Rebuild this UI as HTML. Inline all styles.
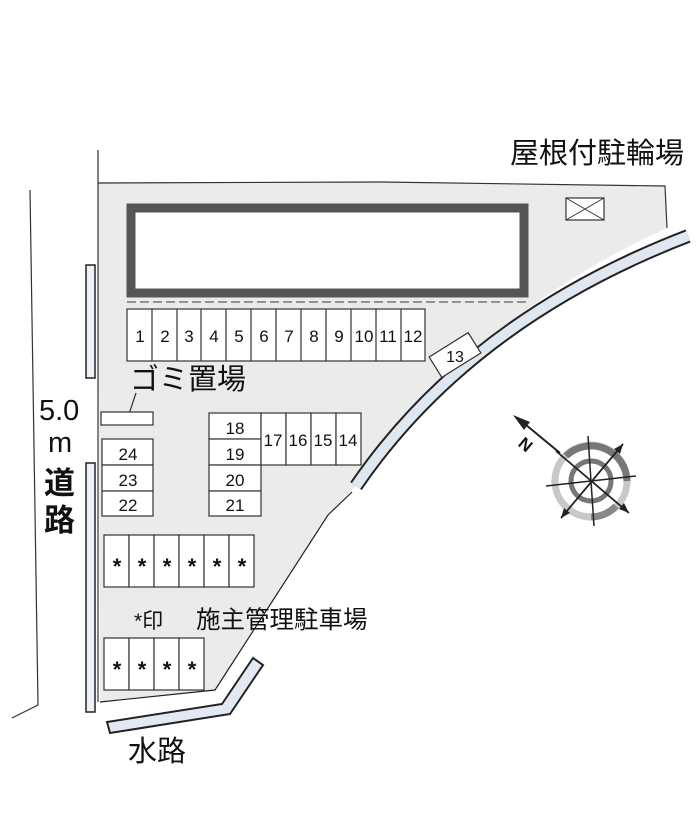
<!DOCTYPE html>
<html><head><meta charset="utf-8"><style>
html,body{margin:0;padding:0;background:#fff;}
svg{display:block;}
text{font-family:"Liberation Sans","Noto Sans CJK JP",sans-serif;fill:#111;}
</style></head><body>
<svg width="700" height="824" viewBox="0 0 700 824" xmlns="http://www.w3.org/2000/svg">
<!-- lot -->
<path d="M98,183 L380,182 L665,186 L667,228 Q470,318 356,486 L328,515 L215,690 L100,702 Z" fill="#ebebeb" stroke="none"/>
<polyline points="98,183 380,182 665,186 667,228" fill="none" stroke="#333" stroke-width="1.2"/>
<polyline points="352,492 328,515 215,690 100,702" fill="none" stroke="#222" stroke-width="1.2"/>
<line x1="98" y1="150" x2="98" y2="702" stroke="#333" stroke-width="1.2"/>
<!-- left road -->
<polyline points="30,190 38,705 12,718" fill="none" stroke="#333" stroke-width="1.2"/>
<rect x="86" y="265" width="9" height="113" fill="#eef2f8" stroke="#222" stroke-width="1.5"/>
<rect x="86" y="463" width="9" height="249" fill="#eef2f8" stroke="#222" stroke-width="1.5"/>
<text x="39" y="420" font-size="29">5.0</text>
<text x="48" y="452" font-size="29">m</text>
<text x="44" y="494" font-size="31" font-weight="bold">道</text>
<text x="44" y="531" font-size="31" font-weight="bold">路</text>
<!-- building -->
<rect x="131" y="208" width="393" height="85" fill="#fff" stroke="#555" stroke-width="9"/>
<line x1="127" y1="302" x2="528" y2="302" stroke="#777" stroke-width="1.5" stroke-dasharray="9,4"/>
<!-- canal right -->
<path d="M688,236 Q470,320 356,486" fill="none" stroke="#222" stroke-width="14"/>
<path d="M688,236 Q470,320 356,486" fill="none" stroke="#dfe7f1" stroke-width="10"/>
<!-- spaces 1-12 -->
<rect x="127" y="309" width="298" height="52" fill="#fff" stroke="#333" stroke-width="1.2"/>
<g stroke="#333" stroke-width="1.2">
<line x1="152" y1="309" x2="152" y2="361"/><line x1="177" y1="309" x2="177" y2="361"/><line x1="201" y1="309" x2="201" y2="361"/><line x1="226" y1="309" x2="226" y2="361"/><line x1="251" y1="309" x2="251" y2="361"/><line x1="276" y1="309" x2="276" y2="361"/><line x1="301" y1="309" x2="301" y2="361"/><line x1="326" y1="309" x2="326" y2="361"/><line x1="351" y1="309" x2="351" y2="361"/><line x1="376" y1="309" x2="376" y2="361"/><line x1="401" y1="309" x2="401" y2="361"/>
</g>
<g font-size="17" text-anchor="middle">
<text x="140" y="342">1</text><text x="165" y="342">2</text><text x="189" y="342">3</text><text x="214" y="342">4</text><text x="239" y="342">5</text><text x="264" y="342">6</text><text x="289" y="342">7</text><text x="314" y="342">8</text><text x="339" y="342">9</text><text x="364" y="342">10</text><text x="388" y="342">11</text><text x="413" y="342">12</text>
</g>
<g transform="translate(455,355) rotate(-32)">
<rect x="-23" y="-12" width="46" height="24" fill="#fff" stroke="#333" stroke-width="1.2"/>
<text x="0" y="7" font-size="16" text-anchor="middle" transform="rotate(32)">13</text>
</g>
<!-- gomi -->
<text x="130" y="389" font-size="29">ゴミ置場</text>
<line x1="136" y1="393" x2="127" y2="420" stroke="#333" stroke-width="1.2"/>
<rect x="101" y="412" width="52" height="13" fill="#fff" stroke="#333" stroke-width="1.2"/>
<g fill="#fff" stroke="#333" stroke-width="1.2">
<rect x="102" y="439" width="51" height="26"/><rect x="102" y="465" width="51" height="26"/><rect x="102" y="491" width="51" height="25"/>
<rect x="209" y="413" width="52" height="26"/><rect x="209" y="439" width="52" height="26"/><rect x="209" y="465" width="52" height="26"/><rect x="209" y="491" width="52" height="25"/>
<rect x="261" y="413" width="25" height="52"/><rect x="286" y="413" width="25" height="52"/><rect x="311" y="413" width="25" height="52"/><rect x="336" y="413" width="25" height="52"/>
</g>
<g font-size="17" text-anchor="middle">
<text x="128" y="460">24</text><text x="128" y="486">23</text><text x="128" y="511">22</text>
<text x="235" y="434">18</text><text x="235" y="460">19</text><text x="235" y="486">20</text><text x="235" y="511">21</text>
<text x="273" y="446">17</text><text x="298" y="446">16</text><text x="323" y="446">15</text><text x="348" y="446">14</text>
</g>
<g fill="#fff" stroke="#333" stroke-width="1.2">
<rect x="104" y="535" width="25" height="52"/><rect x="129" y="535" width="25" height="52"/><rect x="154" y="535" width="25" height="52"/><rect x="179" y="535" width="25" height="52"/><rect x="204" y="535" width="25" height="52"/><rect x="229" y="535" width="25" height="52"/>
<rect x="104" y="638" width="25" height="52"/><rect x="129" y="638" width="25" height="52"/><rect x="154" y="638" width="25" height="52"/><rect x="179" y="638" width="25" height="52"/>
</g>
<g font-size="22" font-weight="bold" text-anchor="middle">
<text x="117" y="574">*</text><text x="142" y="574">*</text><text x="167" y="574">*</text><text x="192" y="574">*</text><text x="217" y="574">*</text><text x="242" y="574">*</text>
<text x="117" y="677">*</text><text x="142" y="677">*</text><text x="167" y="677">*</text><text x="192" y="677">*</text>
</g>
<text x="134" y="628" font-size="21">*印</text>
<text x="196" y="628" font-size="24.5">施主管理駐車場</text>
<!-- bottom canal -->
<polygon points="107,722 222,704 253,658 263,665 230,714 110,733" fill="#e2e9f3" stroke="#222" stroke-width="2"/>
<text x="128" y="761" font-size="29">水路</text>
<!-- bike -->
<text x="510" y="163" font-size="29">屋根付駐輪場</text>
<rect x="566" y="198" width="38" height="22" fill="#fff" stroke="#333" stroke-width="1.2"/>
<line x1="566" y1="198" x2="604" y2="220" stroke="#333"/><line x1="604" y1="198" x2="566" y2="220" stroke="#333"/>
<!-- compass -->
<g transform="translate(591,481)">
<circle r="36" fill="none" stroke="#c8c8c8" stroke-width="7"/>
<path d="M-25,-25 A36,36 0 0 1 36,0" fill="none" stroke="#777" stroke-width="7"/>
<path d="M25,25 A36,36 0 0 1 0,36" fill="none" stroke="#888" stroke-width="7"/>
<circle r="20" fill="none" stroke="#777" stroke-width="5"/>
<line x1="-45" y1="5" x2="45" y2="-5" stroke="#222" stroke-width="1.5"/>
<line x1="-3" y1="-45" x2="3" y2="45" stroke="#222" stroke-width="1.5"/>
<line x1="-35" y1="-30" x2="38" y2="32" stroke="#222" stroke-width="1.8"/>
<line x1="-30" y1="37" x2="32" y2="-37" stroke="#222" stroke-width="1.8"/>
<polygon points="38,32 28,28 33,22" fill="#222"/>
<polygon points="-30,37 -27,27 -21,32" fill="#222"/>
<polygon points="32,-37 29,-27 23,-32" fill="#222"/>
</g>
<line x1="520" y1="420" x2="560" y2="453" stroke="#222" stroke-width="2"/>
<polygon points="513,415 530,422 524,430" fill="#222"/>
<text x="0" y="0" font-size="17" font-weight="bold" transform="translate(534,444) rotate(-140)">N</text>
</svg>
</body></html>
